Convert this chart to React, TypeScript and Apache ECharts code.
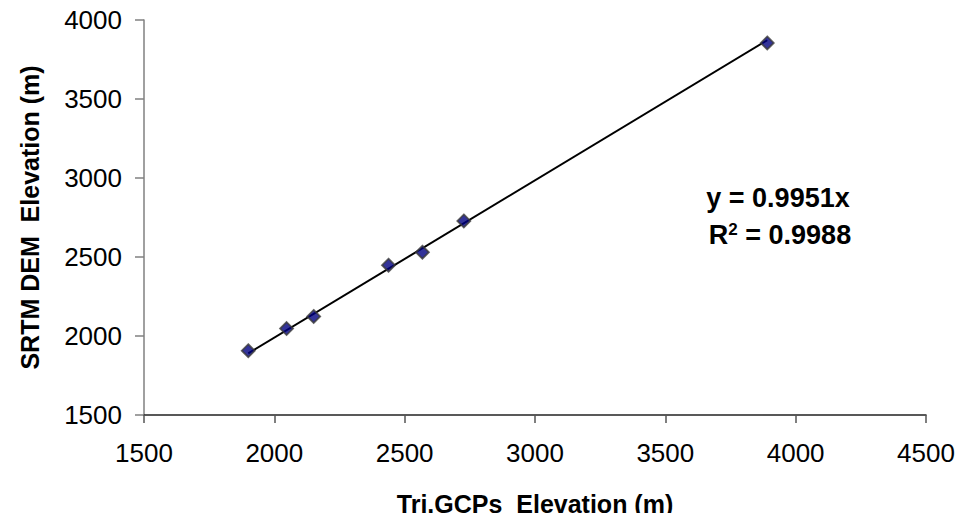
import React, { useEffect, useRef } from "react";
import * as echarts from "echarts";

// Triangulation GCP elevation vs SRTM DEM elevation (m)
const gcpElevation = [1900, 2047, 2151, 2438, 2568, 2727, 3891];
const srtmElevation = [1907, 2047, 2124, 2448, 2530, 2728, 3855];

const slope = 0.9951;
const rSquared = 0.9988;

const xTicks = { min: 1500, max: 4500, interval: 500 };
const yTicks = { min: 1500, max: 4000, interval: 500 };

const FONT = "'Liberation Sans', Arial, Helvetica, sans-serif";

export default function App() {
  const ref = useRef<HTMLDivElement>(null);

  useEffect(() => {
    if (!ref.current) return;
    const chart = echarts.init(ref.current, null, { renderer: "svg" });

    const points = gcpElevation.map((x, i) => [x, srtmElevation[i]]);
    const xLo = Math.min(...gcpElevation);
    const xHi = Math.max(...gcpElevation);
    const trend = [
      [xLo, slope * xLo],
      [xHi, slope * xHi],
    ];

    chart.setOption({
      animation: false,
      backgroundColor: "#ffffff",
      grid: { left: 144, right: 37, top: 20, bottom: 103, containLabel: false },
      xAxis: {
        type: "value",
        min: xTicks.min,
        max: xTicks.max,
        interval: xTicks.interval,
        name: "Tri.GCPs  Elevation (m)",
        nameLocation: "middle",
        nameGap: 76,
        nameTextStyle: { fontFamily: FONT, fontSize: 25, fontWeight: "bold", color: "#000" },
        axisLine: { lineStyle: { color: "#222", width: 1.5 } },
        axisTick: { show: true, inside: false, length: 8, lineStyle: { color: "#555", width: 1.5 } },
        axisLabel: {
          margin: 25,
          fontFamily: FONT,
          fontSize: 26,
          color: "#000",
          formatter: (v: number) => String(v),
        },
        splitLine: { show: false },
      },
      yAxis: {
        type: "value",
        min: yTicks.min,
        max: yTicks.max,
        interval: yTicks.interval,
        name: "SRTM DEM  Elevation (m)",
        nameLocation: "middle",
        nameGap: 102,
        nameTextStyle: { fontFamily: FONT, fontSize: 25, fontWeight: "bold", color: "#000" },
        axisLine: { show: true, lineStyle: { color: "#808080", width: 1.5 } },
        axisTick: { show: true, inside: false, length: 9, lineStyle: { color: "#808080", width: 1.5 } },
        axisLabel: {
          margin: 22,
          fontFamily: FONT,
          fontSize: 26,
          color: "#000",
          formatter: (v: number) => String(v),
        },
        splitLine: { show: false },
      },
      series: [
        {
          name: "trend",
          type: "line",
          data: trend,
          symbol: "none",
          lineStyle: { color: "#000", width: 2 },
          z: 2,
        },
        {
          name: "GCPs",
          type: "scatter",
          data: points,
          symbol: "diamond",
          symbolSize: 13,
          itemStyle: { color: "#000080", borderColor: "#3a3a3a", borderWidth: 1.8 },
          z: 3,
        },
      ],
      graphic: [
        {
          type: "text",
          x: 778,
          y: 198,
          style: {
            text: `y = ${slope}x`,
            align: "center",
            verticalAlign: "middle",
            fontFamily: FONT,
            fontSize: 27,
            fontWeight: "bold",
            fill: "#000",
          },
        },
        {
          type: "text",
          x: 780,
          y: 235,
          style: {
            text: `{b|R}{s|2}{b| = ${rSquared}}`,
            align: "center",
            verticalAlign: "middle",
            fill: "#000",
            rich: {
              b: { fontFamily: FONT, fontSize: 27, fontWeight: "bold", fill: "#000", lineHeight: 30 },
              s: { fontFamily: FONT, fontSize: 17, fontWeight: "bold", fill: "#000", padding: [0, 0, 12, 0], lineHeight: 30 },
            },
          },
        },
      ],
    });

    return () => chart.dispose();
  }, []);

  return <div ref={ref} style={{ width: 963, height: 521, margin: -8 }} />;
}
